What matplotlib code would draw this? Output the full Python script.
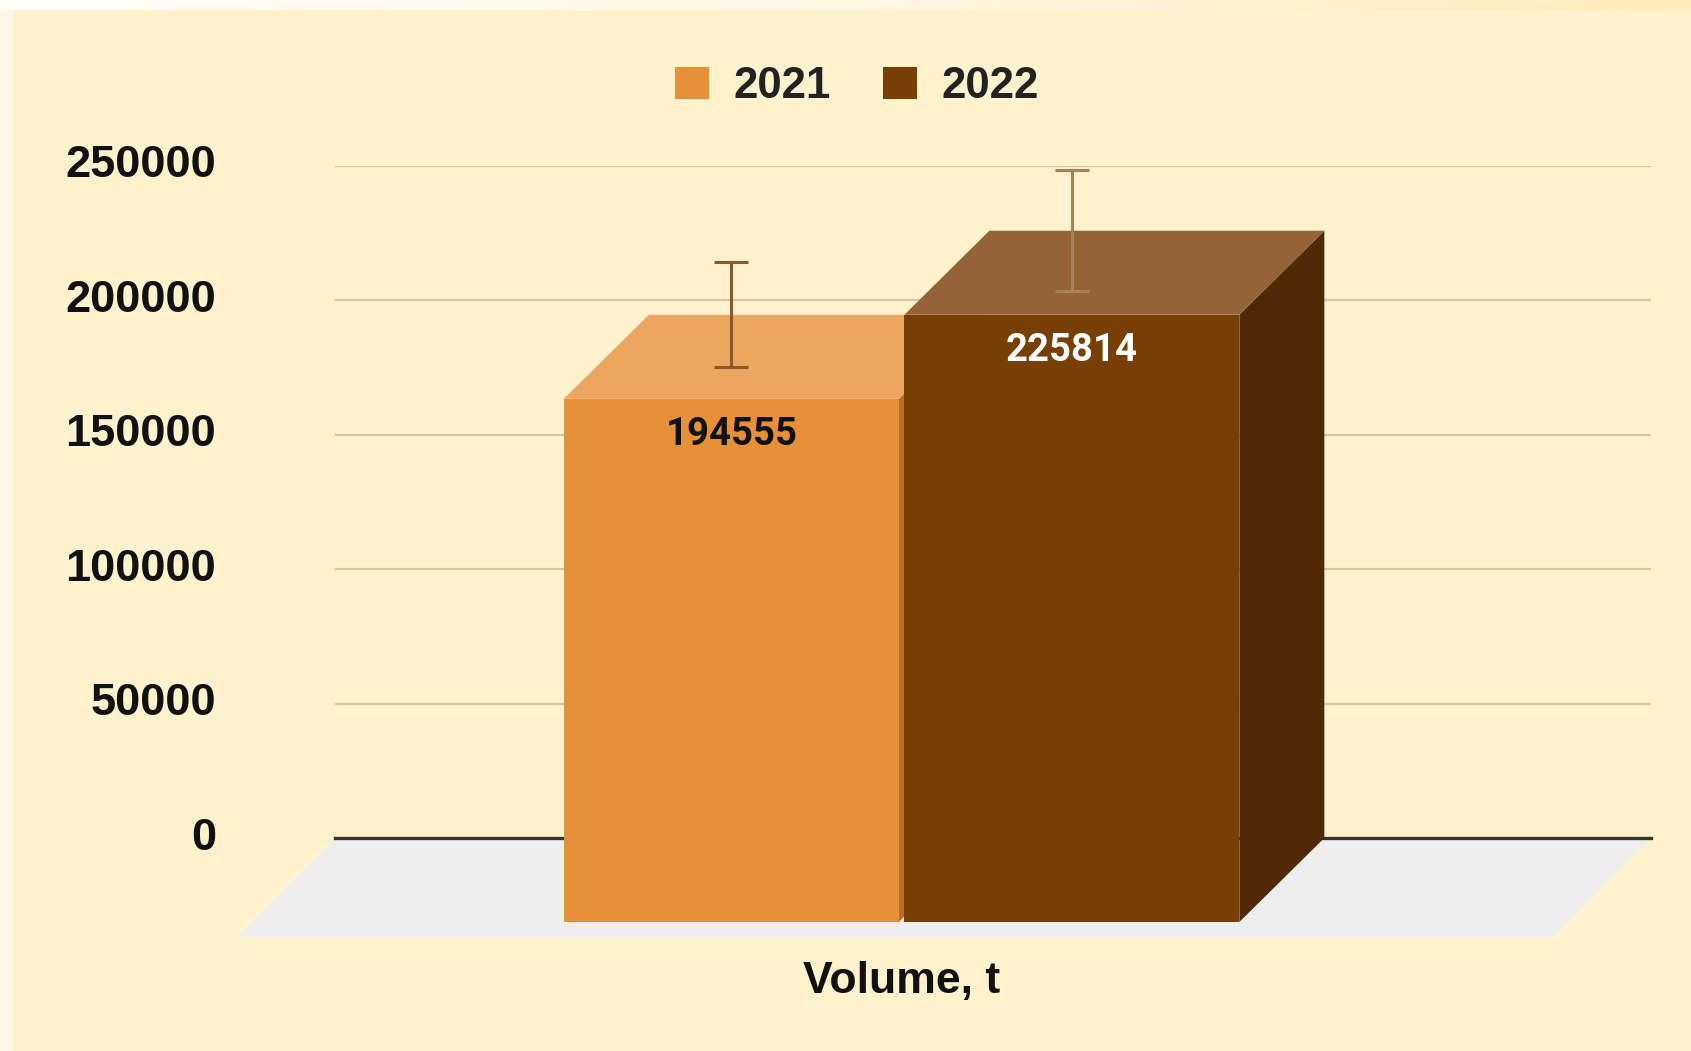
import numpy as np
import matplotlib
matplotlib.use("Agg")
import matplotlib.pyplot as plt
import matplotlib.transforms as mtransforms
from matplotlib.patches import Polygon, Rectangle, Patch
from matplotlib.colors import LinearSegmentedColormap

plt.rcParams['font.family'] = ['Liberation Sans', 'DejaVu Sans']

# data
years = ['2021', '2022']
volumes = [194555, 225814]
errors = [19456, 22581]
category = 'Volume, t'
y_ticks = [0, 50000, 100000, 150000, 200000, 250000]
y_tick_labels = ['0', '50000', '100000', '150000', '200000', '250000']

# colours for the fake 3d boxes
front_colors = ['#E69138', '#783F04']
top_colors = ['#EBA660', '#946337']
side_colors = ['#B36F2B', '#4F2903']
err_colors = ['#8A5A2A', '#A8805A']
label_colors = ['#111111', '#FFFFFF']

W, H = 1691, 1051
fig = plt.figure(figsize=(W / 100, H / 100), dpi=100)
fig.patch.set_facecolor('#FFF7E6')
fig.patches.append(Rectangle((13 / W, 0), 1, 1 - 10 / H, transform=fig.transFigure,
                             facecolor='#FFF2CC', edgecolor='none', zorder=-5))

# gradient strip along the top
strip = fig.add_axes([0, 1 - 10 / H, 1, 10 / H])
cmap = LinearSegmentedColormap.from_list('strip', ['#FFFDF8', '#FFF7E4', '#FFEBBA'])
strip.imshow(np.linspace(0, 1, 256)[None, :], cmap=cmap, aspect='auto')
strip.axis('off')

ax = fig.add_axes([335.4 / W, (H - 838) / H, 1315.6 / W, (838 - 165.7) / H])
ax.set_xlim(-0.5, 0.5)
ax.set_ylim(0, 250000)
ax.patch.set_visible(False)
for s in ax.spines.values():
    s.set_visible(False)
ax.set_xticks([])
ax.set_yticks(y_ticks)
ax.set_yticklabels(y_tick_labels, fontsize=32.5, fontweight='bold', color='#111111')
ax.tick_params(axis='y', length=0, pad=86)
for lab in ax.get_yticklabels():
    lab.set_va('center')

for t in y_ticks[1:]:
    ax.axhline(t, color='#CFC7A8', lw=1.6, zorder=1)
ax.axhline(0, color='#333333', lw=2.4, zorder=2, clip_on=False)

# depth offsets in pixels (front is down-left of the back plane)
bar_depth = np.array([-85.0, -84.0])
floor_depth = np.array([-98.0, -99.0])
ident = mtransforms.IdentityTransform()
T = ax.transData.transform

# floor
bl, br = T((-0.5, 0)), T((0.5, 0))
floor = Polygon([bl, br, br + floor_depth, bl + floor_depth], closed=True,
                facecolor='#EEEEEE', edgecolor='none', transform=ident, zorder=1.5)
floor.set_clip_on(False)
ax.add_patch(floor)

width = 0.2546
spacing = 0.2588
centers = (np.arange(len(years)) - (len(years) - 1) / 2) * spacing - 0.005
dx_data = bar_depth[0] / ax.bbox.width

for i, v in enumerate(volumes):
    x0, x1 = centers[i] - width / 2, centers[i] + width / 2
    p_bl, p_br = T((x0, 0)), T((x1, 0))
    p_tl, p_tr = T((x0, v)), T((x1, v))
    d = bar_depth
    z = 3 + i
    side = Polygon([p_br, p_tr, p_tr + d, p_br + d], facecolor=side_colors[i],
                   edgecolor='none', transform=ident, zorder=z)
    top = Polygon([p_tl, p_tr, p_tr + d, p_tl + d], facecolor=top_colors[i],
                  edgecolor='none', transform=ident, zorder=z)
    front = Polygon([p_bl + d, p_br + d, p_tr + d, p_tl + d], facecolor=front_colors[i],
                    edgecolor='none', transform=ident, zorder=z + 0.1)
    for p in (side, top, front):
        p.set_clip_on(False)
        ax.add_patch(p)

    ax.errorbar(centers[i] + dx_data, v, yerr=errors[i], fmt='none', ecolor=err_colors[i],
                elinewidth=2.2, capsize=12, capthick=2.2, zorder=z + 0.3, clip_on=False)

    off = mtransforms.ScaledTranslation(d[0] / 100, d[1] / 100 - 0.465, fig.dpi_scale_trans)
    ax.text(centers[i], v, str(v), transform=ax.transData + off, ha='center', va='baseline',
            fontsize=27.5, fontweight='bold', family=['Roboto', 'DejaVu Sans'],
            color=label_colors[i], zorder=z + 0.5)

ax.text((902 - 335.4) / 1315.6, (838 - 993) / (838 - 165.7), category, transform=ax.transAxes,
        ha='center', va='baseline', fontsize=32, fontweight='bold', color='#111111')

handles = [Patch(facecolor=c, edgecolor='none') for c in front_colors]
leg = fig.legend(handles, years, loc='center', bbox_to_anchor=(857 / W, 1 - 87 / H), ncol=2,
                 frameon=False, prop={'size': 31.5, 'weight': 'bold'}, handlelength=0.78,
                 handleheight=0.76, handletextpad=0.55, columnspacing=1.2)
for t in leg.get_texts():
    t.set_color('#222222')

fig.savefig('out.png', dpi=100, facecolor=fig.get_facecolor())
